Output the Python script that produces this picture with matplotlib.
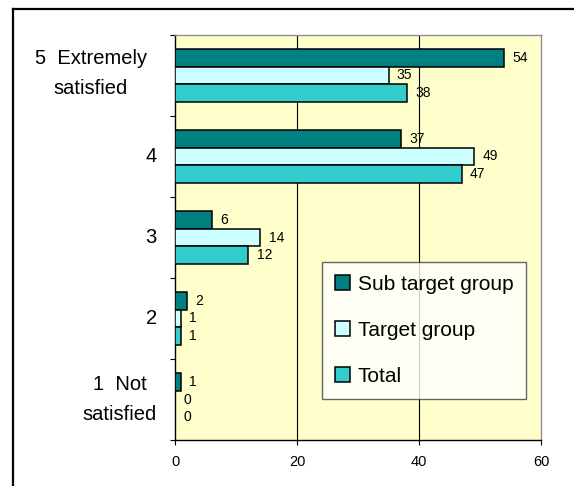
import matplotlib
matplotlib.use("Agg")
import matplotlib.pyplot as plt
from matplotlib.lines import Line2D
from matplotlib.transforms import ScaledTranslation
import numpy as np

plt.rcParams['font.family'] = ['Liberation Sans', 'DejaVu Sans']

categories = ["1  Not\nsatisfied", "2", "3", "4", "5  Extremely\nsatisfied"]
series_names = ["Sub target group", "Target group", "Total"]
sub_target = [1, 2, 6, 37, 54]
target = [0, 1, 14, 49, 35]
total = [0, 1, 12, 47, 38]
xticks = [0, 20, 40, 60]

colors = ["#008080", "#CCFFFF", "#33CCCC"]

fig = plt.figure(figsize=(5.74, 4.86), dpi=100)
W, H = 574, 486
ax = fig.add_axes([175 / W, 1 - 440 / H, (541 - 175) / W, (440 - 35) / H])
ax.set_facecolor("#FFFFCC")

y = np.arange(len(categories))
h = 0.222
offsets = [h, 0, -h]
for vals, off, col, name in zip([sub_target, target, total], offsets, colors, series_names):
    ax.barh(y + off, vals, height=h, color=col, edgecolor="black",
            linewidth=1.1, label=name, zorder=3)
    for yy, v in zip(y + off, vals):
        ax.annotate(str(v), xy=(v, yy), xytext=(6, 0), textcoords="offset points",
                    ha="left", va="center", fontsize=10, zorder=4)

ax.set_xlim(0, 60)
ax.set_ylim(-0.5, len(categories) - 0.5)
ax.set_xticks(xticks)
ax.set_xticklabels([str(t) for t in xticks], fontsize=10.5)
ax.tick_params(axis="x", direction="out", length=3.6, width=0.8, pad=7, colors="black")
ax.set_yticks(y)
ax.set_yticklabels(categories, fontsize=14.5, multialignment="center", linespacing=1.75)
ax.tick_params(axis="y", which="major", length=0, pad=13)
ax.set_yticks(np.arange(-0.5, len(categories), 1.0), minor=True)
ax.tick_params(axis="y", which="minor", direction="out", length=3.6, width=0.8)

for gx in [20, 40]:
    ax.axvline(gx, color="black", linewidth=0.8, zorder=1)

ax.spines["left"].set_color("black")
ax.spines["bottom"].set_color("black")
ax.spines["top"].set_color("#909090")
ax.spines["right"].set_color("#909090")
for s in ax.spines.values():
    s.set_linewidth(1.0)

lbls = ax.get_yticklabels()
for lb in lbls:
    lb.set_verticalalignment("center")
# shift the long top label a bit left like the original
lbls[4].set_transform(lbls[4].get_transform() + ScaledTranslation(-0.10, 0.02, fig.dpi_scale_trans))

leg = ax.legend(loc="upper left", bbox_to_anchor=(322 / W, 1 - 262 / H),
                bbox_transform=fig.transFigure, fontsize=15, frameon=True,
                fancybox=False, borderaxespad=0, handlelength=0.7, handleheight=0.7,
                handletextpad=0.4, labelspacing=1.3, borderpad=0.62)
leg.get_frame().set_edgecolor("#404040")
leg.get_frame().set_linewidth(1.0)
leg.get_frame().set_facecolor("white")
leg.set_zorder(5)

# outer border of the chart area
fig.add_artist(Line2D([12.5 / W, 12.5 / W], [1 - 9.5 / H, 0], transform=fig.transFigure,
                      color="black", linewidth=1.6))
fig.add_artist(Line2D([12.5 / W, 1], [1 - 9.5 / H, 1 - 9.5 / H], transform=fig.transFigure,
                      color="black", linewidth=1.6))

fig.savefig("out.png", dpi=100)
